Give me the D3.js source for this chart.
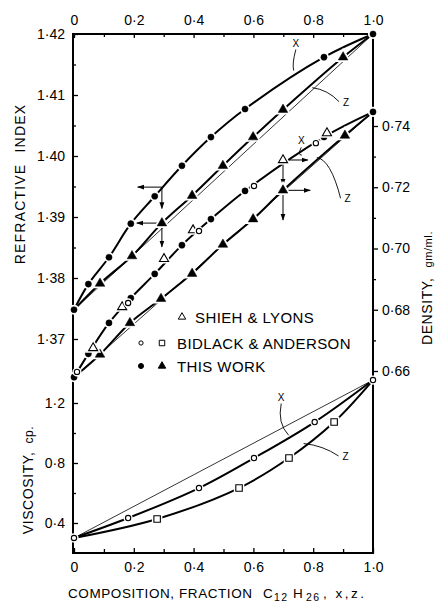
<!DOCTYPE html>
<html><head><meta charset="utf-8">
<script src="https://cdn.jsdelivr.net/npm/d3@7"></script>
<style>
html,body{margin:0;padding:0;background:#fff;}
svg{display:block;font-family:"Liberation Sans",Arial,sans-serif;}
</style></head>
<body><svg id="c" width="444" height="605"></svg>
<script>
// ---------- DATA ----------
const xTicksMajor = [0, 0.2, 0.4, 0.6, 0.8, 1.0];
const xTickLabels = ["0", "0·2", "0·4", "0·6", "0·8", "1·0"];
const riTicks = [1.37, 1.38, 1.39, 1.40, 1.41, 1.42];
const riTickLabels = ["1·37", "1·38", "1·39", "1·40", "1·41", "1·42"];
const denTicks = [0.66, 0.68, 0.70, 0.72, 0.74];
const denTickLabels = ["0·66", "0·68", "0·70", "0·72", "0·74"];
const visTicks = [0.4, 0.8, 1.2];
const visTickLabels = ["0·4", "0·8", "1·2"];

// Refractive index, this work: x (filled circles) and z (filled triangles)
const riX_comp = [0, 0.048, 0.117, 0.19, 0.27, 0.361, 0.458, 0.572, 0.836, 1];
const riX_val  = [1.3748, 1.3790, 1.3834, 1.3889, 1.3934, 1.3984, 1.4031, 1.4077, 1.4162, 1.4200];
const riZ_comp = [0, 0.087, 0.194, 0.294, 0.395, 0.498, 0.599, 0.699, 0.900, 1];
const riZ_val  = [1.3748, 1.3791, 1.3836, 1.3890, 1.3935, 1.3984, 1.4031, 1.4076, 1.4162, 1.4200];

// Density, this work
const dX_comp = [0, 0.048, 0.117, 0.19, 0.27, 0.361, 0.458, 0.572, 0.836, 1];
const dX_val  = [0.6580, 0.6656, 0.6757, 0.6838, 0.6917, 0.7011, 0.7096, 0.7188, 0.7364, 0.7446];
const dZ_comp = [0, 0.087, 0.187, 0.291, 0.395, 0.498, 0.599, 0.699, 0.906, 1];
const dZ_val  = [0.6580, 0.6654, 0.6757, 0.6836, 0.6918, 0.7013, 0.7096, 0.7190, 0.7369, 0.7446];

// Density, Shieh & Lyons (open triangles), Bidlack & Anderson (open circles)
const shieh_comp = [0.064, 0.161, 0.301, 0.398, 0.699, 0.846];
const shieh_val  = [0.6675, 0.6809, 0.6966, 0.7060, 0.7289, 0.7377];
const bidD_comp  = [0.010, 0.181, 0.418, 0.602, 0.809];
const bidD_val   = [0.6597, 0.6822, 0.7057, 0.7204, 0.7344];

// Viscosity, Bidlack & Anderson: x (open circles), z (open squares)
const vX_comp = [0, 0.181, 0.418, 0.602, 0.805, 1];
const vX_val  = [0.30, 0.433, 0.633, 0.833, 1.073, 1.353];
const vZ_comp = [0, 0.278, 0.552, 0.719, 0.870, 1];
const vZ_val  = [0.30, 0.427, 0.633, 0.833, 1.073, 1.353];

// ---------- SCALES ----------
const svg = d3.select("#c");
const FONT = '"Liberation Sans",Arial,sans-serif';
const xS = d3.scaleLinear().domain([0, 1]).range([74, 373]);
const yRI = d3.scaleLinear().domain([1.37, 1.42]).range([339, 34]);
const yD = d3.scaleLinear().domain([0.66, 0.74]).range([371, 126]);
const yV = d3.scaleLinear().domain([0.4, 1.2]).range([523, 403]);
const L = 73, R = 373, T = 34, B = 553;

const zip = (a, b) => a.map((v, i) => [v, b[i]]);

// ---------- AXES ----------
function fmt(vals, labels) { return d => labels[vals.findIndex(v => Math.abs(v - d) < 1e-9)]; }
function styleAxis(g, fs) {
  g.select(".domain").remove();
  g.attr("font-family", FONT).attr("font-size", fs);
  g.selectAll("line").attr("stroke", "#000").attr("stroke-width", 1.3);
  g.selectAll("text").attr("fill", "#000");
}
// top
svg.append("g").attr("transform", `translate(0,${T})`)
  .call(d3.axisTop(xS).tickValues(xTicksMajor).tickFormat(fmt(xTicksMajor, xTickLabels)).tickSizeInner(-4).tickSizeOuter(0).tickPadding(9))
  .call(g => styleAxis(g, 14));
svg.append("g").attr("transform", `translate(0,${T})`)
  .call(d3.axisTop(xS).tickValues([0.1,0.3,0.5,0.7,0.9]).tickFormat("").tickSizeInner(-3).tickSizeOuter(0))
  .call(g => styleAxis(g, 14));
// bottom
svg.append("g").attr("transform", `translate(0,${B})`)
  .call(d3.axisBottom(xS).tickValues(xTicksMajor).tickFormat(fmt(xTicksMajor, xTickLabels)).tickSizeInner(-5).tickSizeOuter(0).tickPadding(9))
  .call(g => styleAxis(g, 14));
svg.append("g").attr("transform", `translate(0,${B})`)
  .call(d3.axisBottom(xS).tickValues([0.1,0.3,0.5,0.7,0.9]).tickFormat("").tickSizeInner(-4).tickSizeOuter(0))
  .call(g => styleAxis(g, 14));
// left RI
svg.append("g").attr("transform", `translate(${L},0)`)
  .call(d3.axisLeft(yRI).tickValues(riTicks).tickFormat(fmt(riTicks, riTickLabels)).tickSizeInner(-5).tickSizeOuter(0).tickPadding(8))
  .call(g => styleAxis(g, 14));
svg.append("g").attr("transform", `translate(${L},0)`)
  .call(d3.axisLeft(yRI).tickValues([1.375,1.385,1.395,1.405,1.415]).tickFormat("").tickSizeInner(-3).tickSizeOuter(0))
  .call(g => styleAxis(g, 14));
// left viscosity
svg.append("g").attr("transform", `translate(${L},0)`)
  .call(d3.axisLeft(yV).tickValues(visTicks).tickFormat(fmt(visTicks, visTickLabels)).tickSizeInner(-5).tickSizeOuter(0).tickPadding(8))
  .call(g => styleAxis(g, 14));
svg.append("g").attr("transform", `translate(${L},0)`)
  .call(d3.axisLeft(yV).tickValues([0.6, 1.0]).tickFormat("").tickSizeInner(-3).tickSizeOuter(0))
  .call(g => styleAxis(g, 14));
// right density
svg.append("g").attr("transform", `translate(${R},0)`)
  .call(d3.axisRight(yD).tickValues(denTicks).tickFormat(fmt(denTicks, denTickLabels)).tickSizeInner(5).tickSizeOuter(0).tickPadding(4))
  .call(g => styleAxis(g, 14));
svg.append("g").attr("transform", `translate(${R},0)`)
  .call(d3.axisRight(yD).tickValues([0.67,0.69,0.71,0.73]).tickFormat("").tickSizeInner(3).tickSizeOuter(0))
  .call(g => styleAxis(g, 14));

// frame
svg.append("rect").attr("x", L).attr("y", T).attr("width", R - L).attr("height", B - T)
  .attr("fill", "none").attr("stroke", "#000").attr("stroke-width", 2);

// ---------- LINES ----------
const curve = d3.curveCatmullRom.alpha(0.5);
function lineGen(ys) { return d3.line().x(d => xS(d[0])).y(d => ys(d[1])).curve(curve); }

// thin ideal straight lines
const thin = [
  [yRI, [[0, riX_val[0]], [1, riX_val[riX_val.length - 1]]]],
  [yD, [[0, dX_val[0]], [1, dX_val[dX_val.length - 1]]]],
  [yV, [[0, vX_val[0]], [1, vX_val[vX_val.length - 1]]]]
];
thin.forEach(([ys, pts]) => {
  svg.append("path").attr("d", d3.line().x(d => xS(d[0])).y(d => ys(d[1]))(pts))
    .attr("fill", "none").attr("stroke", "#000").attr("stroke-width", 0.8);
});

const thick = [
  [yRI, zip(riX_comp, riX_val)], [yRI, zip(riZ_comp, riZ_val)],
  [yD, zip(dX_comp, dX_val)], [yD, zip(dZ_comp, dZ_val)],
  [yV, zip(vX_comp, vX_val)], [yV, zip(vZ_comp, vZ_val)]
];
thick.forEach(([ys, pts]) => {
  svg.append("path").attr("d", lineGen(ys)(pts))
    .attr("fill", "none").attr("stroke", "#000").attr("stroke-width", 2);
});

// ---------- ARROWS (tie lines) ----------
svg.append("defs").append("marker").attr("id", "ah").attr("viewBox", "0 0 10 10")
  .attr("refX", 9).attr("refY", 5).attr("markerWidth", 7).attr("markerHeight", 7)
  .attr("orient", "auto-start-reverse").attr("markerUnits", "userSpaceOnUse")
  .append("path").attr("d", "M0,1.5 L10,5 L0,8.5 z").attr("fill", "#000");
// [scale, x0, y0, x1, y1]
const arrows = [
  [yRI, 0.294, 1.3949, 0.213, 1.3949], [yRI, 0.294, 1.3949, 0.294, 1.3914],
  [yRI, 0.294, 1.3890, 0.210, 1.3890], [yRI, 0.294, 1.3890, 0.294, 1.3851],
  [yD, 0.699, 0.7289, 0.782, 0.7289], [yD, 0.699, 0.7289, 0.699, 0.7207],
  [yD, 0.699, 0.7190, 0.790, 0.7190], [yD, 0.699, 0.7190, 0.699, 0.7093]
];
arrows.forEach(([ys, x0, y0, x1, y1]) => {
  svg.append("line").attr("x1", xS(x0)).attr("y1", ys(y0)).attr("x2", xS(x1)).attr("y2", ys(y1))
    .attr("stroke", "#000").attr("stroke-width", 1).attr("marker-end", "url(#ah)");
});

// ---------- MARKERS ----------
function drawMarkers(comp, vals, ys, type, filled, size) {
  const sym = d3.symbol().type(type).size(size);
  const g = svg.append("g");
  comp.forEach((c, i) => {
    const tx = `translate(${xS(c)},${ys(vals[i])})`;
    g.append("path").attr("d", sym()).attr("transform", tx)
      .attr("fill", "#fff").attr("stroke", "#fff").attr("stroke-width", 4);
    g.append("path").attr("d", sym()).attr("transform", tx)
      .attr("fill", filled ? "#000" : "#fff").attr("stroke", "#000").attr("stroke-width", filled ? 0.5 : 1.1);
  });
}
drawMarkers(riX_comp, riX_val, yRI, d3.symbolCircle, true, 30);
drawMarkers(riZ_comp.slice(1, -1), riZ_val.slice(1, -1), yRI, d3.symbolTriangle, true, 40);
drawMarkers(dX_comp, dX_val, yD, d3.symbolCircle, true, 30);
drawMarkers(dZ_comp.slice(1, -1), dZ_val.slice(1, -1), yD, d3.symbolTriangle, true, 40);
drawMarkers(shieh_comp, shieh_val, yD, d3.symbolTriangle, false, 36);
drawMarkers(bidD_comp, bidD_val, yD, d3.symbolCircle, false, 22);
drawMarkers(vX_comp, vX_val, yV, d3.symbolCircle, false, 22);
drawMarkers(vZ_comp.slice(1, -1), vZ_val.slice(1, -1), yV, d3.symbolSquare, false, 42);

// ---------- CURVE LABELS (x / z) ----------
// [scale, label, labelX, labelVal, targetX, targetVal]
const curveLabels = [
  [yRI, "X", 0.742, 1.4186, 0.735, 1.4140],
  [yRI, "Z", 0.910, 1.4089, 0.797, 1.4112],
  [yD, "X", 0.760, 0.7353, 0.762, 0.7305],
  [yD, "Z", 0.915, 0.7164, 0.812, 0.7297],
  [yV, "X", 0.693, 1.243, 0.718, 0.985],
  [yV, "Z", 0.908, 0.847, 0.768, 0.93]
];
curveLabels.forEach(([ys, lab, lx, lv, tx, tv]) => {
  const px = xS(lx), py = ys(lv), qx = xS(tx), qy = ys(tv);
  svg.append("text").attr("x", px).attr("y", py + 4).attr("text-anchor", "middle")
    .attr("font-size", 10).attr("font-family", FONT).text(lab);
  let sx, sy, cx, cy;
  if (lab === "X") { sx = px; sy = py + 7; cx = px - 4; cy = (sy + qy) / 2 + 4; }
  else { sx = px - 7; sy = py; cx = (sx + qx) / 2 + 2; cy = qy + 2; }
  svg.append("path").attr("d", `M${sx},${sy} Q${cx},${cy} ${qx},${qy}`)
    .attr("fill", "none").attr("stroke", "#000").attr("stroke-width", 0.9);
});

// ---------- AXIS TITLES ----------
svg.append("text").attr("transform", "translate(25,184) rotate(-90)").attr("text-anchor", "middle")
  .attr("font-size", 14).attr("letter-spacing", 1.2).attr("word-spacing", 6).text("REFRACTIVE INDEX");
svg.append("text").attr("transform", "translate(33,480) rotate(-90)").attr("text-anchor", "middle")
  .attr("font-size", 14).attr("letter-spacing", 0.6).attr("word-spacing", 6)
  .call(t => { t.append("tspan").text("VISCOSITY,"); t.append("tspan").attr("font-size", 12).attr("dx", 8).text("cp."); });
svg.append("text").attr("transform", "translate(432,288) rotate(-90)").attr("text-anchor", "middle")
  .attr("font-size", 14).attr("letter-spacing", 0.6)
  .call(t => { t.append("tspan").text("DENSITY,"); t.append("tspan").attr("font-size", 11).attr("dx", 10).text("gm/ml."); });
const title = svg.append("text").attr("y", 598).attr("font-size", 13.5);
title.append("tspan").attr("x", 68).attr("textLength", 184).attr("lengthAdjust", "spacing").text("COMPOSITION,  FRACTION");
title.append("tspan").attr("x", 263).text("C");
title.append("tspan").attr("x", 274).attr("font-size", 10.5).attr("dy", 3).attr("letter-spacing", 1.5).text("12");
title.append("tspan").attr("x", 293).attr("dy", -3).text("H");
title.append("tspan").attr("x", 306).attr("font-size", 10.5).attr("dy", 3).attr("letter-spacing", 1.5).text("26");
title.append("tspan").attr("x", 323).attr("dy", -3).attr("letter-spacing", 2.5).text(", x,z.");

// ---------- LEGEND ----------
const legendNames = ["SHIEH & LYONS", "BIDLACK & ANDERSON", "THIS WORK"];
const legendY = [317, 343, 366];
const legendTextX = [195, 177, 177];
const legendSyms = [
  [{x: 182, t: d3.symbolTriangle, f: false, s: 24}],
  [{x: 141, t: d3.symbolCircle, f: false, s: 14}, {x: 162, t: d3.symbolSquare, f: false, s: 30}],
  [{x: 141, t: d3.symbolCircle, f: true, s: 20}, {x: 162, t: d3.symbolTriangle, f: true, s: 24}]
];
legendNames.forEach((n, i) => {
  svg.append("text").attr("x", legendTextX[i]).attr("y", legendY[i] + 5.5)
    .attr("font-size", 15).attr("letter-spacing", 0.4).attr("font-family", FONT).text(n);
  legendSyms[i].forEach(s => {
    svg.append("path").attr("d", d3.symbol().type(s.t).size(s.s)())
      .attr("transform", `translate(${s.x},${legendY[i]})`)
      .attr("fill", s.f ? "#000" : "#fff").attr("stroke", "#000").attr("stroke-width", 1);
  });
});
</script></body></html>
